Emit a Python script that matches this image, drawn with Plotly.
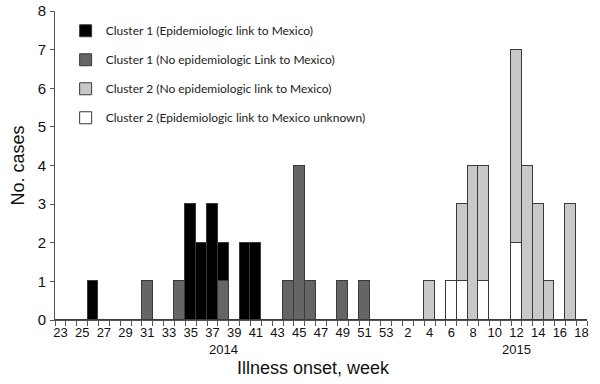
import plotly.graph_objects as go

# ---- data ----
weeks_2014 = list(range(23, 54))   # 23..53
weeks_2015 = list(range(1, 19))    # 1..18
categories = [str(w) for w in weeks_2014] + [str(w) for w in weeks_2015]

# Cluster 1 (Epidemiologic link to Mexico)
c1_link_2014 = [0, 0, 0, 1, 0, 0, 0, 0, 0, 0, 0, 0, 3, 2, 3, 1, 0, 2, 2, 0, 0, 0, 0, 0, 0, 0, 0, 0, 0, 0, 0]
c1_link_2015 = [0] * 18
# Cluster 1 (No epidemiologic link to Mexico)
c1_nolink_2014 = [0, 0, 0, 0, 0, 0, 0, 0, 1, 0, 0, 1, 0, 0, 0, 1, 0, 0, 0, 0, 0, 1, 4, 1, 0, 0, 1, 0, 1, 0, 0]
c1_nolink_2015 = [0] * 18
# Cluster 2 (No epidemiologic link to Mexico)
c2_nolink_2014 = [0] * 31
c2_nolink_2015 = [0, 0, 0, 1, 0, 0, 2, 4, 3, 0, 0, 5, 4, 3, 1, 0, 3, 0]
# Cluster 2 (Epidemiologic link to Mexico unknown)
c2_unknown_2014 = [0] * 31
c2_unknown_2015 = [0, 0, 0, 0, 0, 1, 1, 0, 1, 0, 0, 2, 0, 0, 0, 0, 0, 0]

c1_link = c1_link_2014 + c1_link_2015
c1_nolink = c1_nolink_2014 + c1_nolink_2015
c2_nolink = c2_nolink_2014 + c2_nolink_2015
c2_unknown = c2_unknown_2014 + c2_unknown_2015

tick_text = [str(w) if w % 2 == 1 else "" for w in weeks_2014] + \
            [str(w) if w % 2 == 0 else "" for w in weeks_2015]

year_labels = ["2014", "2015"]
year_label_weeks = ["38", "12"]

line = dict(color="#3a3a3a", width=1)

fig = go.Figure()
# stacking order bottom -> top
fig.add_trace(go.Bar(x=categories, y=c1_nolink, name="Cluster 1 (No epidemiologic Link to Mexico)",
                     marker=dict(color="#656565", line=line), legendrank=2, legendgroup="b"))
fig.add_trace(go.Bar(x=categories, y=c1_link, name="Cluster 1 (Epidemiologic link to Mexico)",
                     marker=dict(color="#000000", line=line), legendrank=1, legendgroup="a"))
fig.add_trace(go.Bar(x=categories, y=c2_unknown, name="Cluster 2 (Epidemiologic link to Mexico unknown)",
                     marker=dict(color="#ffffff", line=line), legendrank=4, legendgroup="d"))
fig.add_trace(go.Bar(x=categories, y=c2_nolink, name="Cluster 2 (No epidemiologic link to Mexico)",
                     marker=dict(color="#c8c8c8", line=line), legendrank=3, legendgroup="c"))

annotations = [
    dict(text=lab, x=categories.index(wk), xref="x", y=-0.094, yref="paper", showarrow=False,
         xanchor="center", yanchor="middle", font=dict(size=13))
    for lab, wk in zip(year_labels, year_label_weeks)
]
annotations.append(
    dict(text="Illness onset, week", x=0.485, xref="paper", y=-0.155, yref="paper",
         showarrow=False, xanchor="center", yanchor="middle", font=dict(size=18)))

fig.update_layout(
    width=600, height=384,
    margin=dict(l=55, r=13, t=11, b=64, autoexpand=False),
    barmode="stack", bargap=0,
    plot_bgcolor="white", paper_bgcolor="white",
    font=dict(family="Liberation Sans, Arial", color="#111111"),
    showlegend=True,
    legend=dict(x=0.02, y=0.983, xanchor="left", yanchor="top",
                font=dict(family="Lato", size=12, color="#222222"),
                tracegroupgap=10, bgcolor="rgba(0,0,0,0)"),
    xaxis=dict(type="category", categoryorder="array", categoryarray=categories,
               tickmode="array", tickvals=categories, ticktext=tick_text, tickangle=0,
               tickson="boundaries", ticks="outside", ticklen=5, tickcolor="#555555",
               showline=True, linecolor="#555555", linewidth=1, automargin=False,
               showgrid=False, tickfont=dict(size=13, color="#111111"),
               range=[-0.5, len(categories) - 0.5]),
    yaxis=dict(range=[0, 8], dtick=1, ticks="outside", ticklen=4, tickcolor="#555555",
               showline=True, linecolor="#555555", linewidth=1, showgrid=False,
               zeroline=False, tickfont=dict(size=15, color="#111111"),
               ticklabelstandoff=1, automargin=False,
               title=dict(text="No. cases", font=dict(size=18), standoff=8)),
    annotations=annotations,
)

fig.write_html("out.html", config={"displayModeBar": False},
               post_script="document.body.style.margin='0px';")
